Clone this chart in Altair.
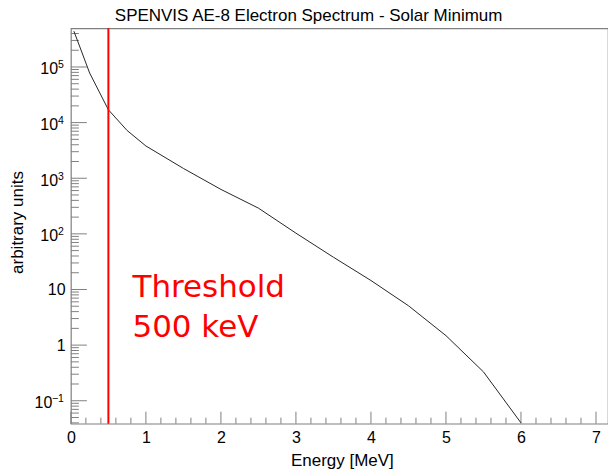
import altair as alt
import pandas as pd

# AE-8 electron spectrum (solar minimum), energy in MeV vs. flux in arbitrary units
energy_mev = [0.04, 0.1, 0.25, 0.5, 0.75, 1.0, 1.5, 2.0, 2.5, 3.0, 3.5, 4.0, 4.5, 5.0, 5.5, 6.0]
flux = [4.4e5, 2.7e5, 7.8e4, 1.7e4, 7.2e3, 3.8e3, 1.5e3, 630, 290, 103, 38, 14.5, 5.1, 1.48, 0.33, 0.04]

threshold_mev = [0.5]

# axis tick positions and labels
x_major = [0, 1, 2, 3, 4, 5, 6, 7]
x_minor = [round(i * 0.2, 1) for i in range(36) if i % 5 != 0]
y_major = [0.1, 1, 10, 100, 1e3, 1e4, 1e5]
y_minor = [m * 10.0 ** d for d in range(-2, 6) for m in range(2, 10)]
y_base = ["10", "1", "10", "10", "10", "10", "10"]
y_exp = ["−1", "", "", "2", "3", "4", "5"]

X_DOMAIN = [0, 7.16]
Y_DOMAIN = [0.03866, 4.95e5]
W, H = 538, 396
GREY = "#808080"
FONT = "Liberation Sans"

spectrum = pd.DataFrame({"energy": energy_mev, "flux": flux})

xscale = alt.Scale(domain=X_DOMAIN, nice=False, zero=False)
yscale = alt.Scale(type="log", domain=Y_DOMAIN, nice=False)

xaxis = alt.Axis(
    values=x_major, format="d", ticks=False, tickSize=0, grid=False, domain=False,
    labelFont=FONT, labelFontSize=16, labelColor="#000", labelPadding=19,
    labelBaseline="alphabetic", labelFlush=False,
    title="Energy [MeV]", titleFont=FONT, titleFontSize=17, titleFontWeight="normal",
    titleColor="#000", titleX=271.5, titleY=41.7, titleBaseline="alphabetic",
    titleAlign="center",
)
yaxis = alt.Axis(
    values=y_major, labels=False, ticks=False, tickSize=0, grid=False, domain=False,
    title="arbitrary units", titleFont=FONT, titleFontSize=17,
    titleFontWeight="normal", titleColor="#000", titleX=-48, titleY=194,
    titleBaseline="alphabetic", titleAlign="center", titleAngle=270,
)

curve = alt.Chart(spectrum).mark_line(color="#262626", strokeWidth=1, clip=True).encode(
    x=alt.X("energy:Q", scale=xscale, axis=xaxis),
    y=alt.Y("flux:Q", scale=yscale, axis=yaxis),
)

thr = alt.Chart(pd.DataFrame({"energy": threshold_mev})).mark_rule(
    color="#ff0000", strokeWidth=2
).encode(x=alt.X("energy:Q", scale=xscale))


# inward-pointing tick marks
def xticks(vals, length):
    return alt.Chart(pd.DataFrame({"t": vals})).mark_rule(color=GREY, strokeWidth=1).encode(
        x=alt.X("t:Q", scale=xscale),
        y=alt.value(H),
        y2=alt.value(H - length),
    )


def yticks(vals, length):
    vals = [v for v in vals if Y_DOMAIN[0] <= v <= Y_DOMAIN[1]]
    return alt.Chart(pd.DataFrame({"t": vals})).mark_tick(
        color=GREY, orient="horizontal", size=length, thickness=1, opacity=1
    ).encode(
        y=alt.Y("t:Q", scale=yscale),
        x=alt.value(length / 2),
    )


# y tick labels: base number plus a raised exponent
ylab = pd.DataFrame({"v": y_major, "base": y_base, "exp": y_exp})
ylab["has_exp"] = ylab["exp"].str.len() > 0
ylab["exp_w"] = ylab["exp"].str.len() * 5.8
ylab["base_x"] = [(-7 - w) if h else -5.3 for w, h in zip(ylab["exp_w"], ylab["has_exp"])]

base_plain = alt.Chart(ylab[~ylab["has_exp"]]).mark_text(
    font=FONT, fontSize=16, color="#000", align="right", baseline="alphabetic", dy=5.7,
).encode(y=alt.Y("v:Q", scale=yscale), x=alt.value(-5.3), text="base:N")

base_sup = alt.Chart(ylab[ylab["has_exp"]]).mark_text(
    font=FONT, fontSize=16, color="#000", align="right", baseline="alphabetic", dy=7.5,
).encode(
    y=alt.Y("v:Q", scale=yscale),
    x=alt.X("base_x:Q", scale=None),
    text="base:N",
)

exps = alt.Chart(ylab[ylab["has_exp"]]).mark_text(
    font=FONT, fontSize=10.5, color="#000", align="right", baseline="alphabetic", dy=1.5,
).encode(y=alt.Y("v:Q", scale=yscale), x=alt.value(-7), text="exp:N")

label = alt.Chart(pd.DataFrame({"txt": [["Threshold", "500 keV"]]})).mark_text(
    font="DejaVu Sans", fontSize=31, color="#ff0000", align="left",
    baseline="alphabetic", lineHeight=40,
).encode(x=alt.value(61.7), y=alt.value(269.3), text="txt")

title = alt.Chart(pd.DataFrame({"txt": ["SPENVIS AE-8 Electron Spectrum - Solar Minimum"]})).mark_text(
    font=FONT, fontSize=17, color="#000", align="left", baseline="alphabetic",
).encode(x=alt.value(44), y=alt.value(-7.3), text="txt")

chart = alt.layer(
    xticks(x_minor, 6), xticks(x_major, 12),
    yticks(y_minor, 8), yticks(y_major, 16),
    curve, thr, label, title, base_plain, base_sup, exps,
).properties(
    width=W, height=H,
    padding={"left": 71, "top": 28, "right": 0, "bottom": 48},
    autosize="none",
    background="white",
).configure_view(stroke=GREY, strokeWidth=1.2)

chart.save("out.html", embed_options={"renderer": "svg", "actions": False})
